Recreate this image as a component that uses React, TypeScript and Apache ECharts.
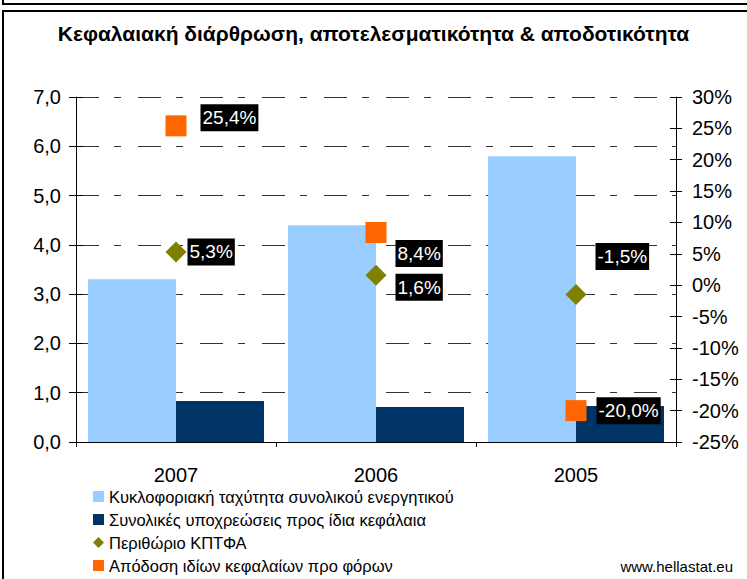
import React, { useEffect, useRef } from "react";
import * as echarts from "echarts";

const titleText = "Κεφαλαιακή διάρθρωση, αποτελεσματικότητα & αποδοτικότητα";
const categories = ["2007", "2006", "2005"];
const seriesNames = [
  "Κυκλοφοριακή ταχύτητα συνολικού ενεργητικού",
  "Συνολικές υποχρεώσεις προς ίδια κεφάλαια",
  "Περιθώριο ΚΠΤΦΑ",
  "Απόδοση ιδίων κεφαλαίων προ φόρων",
];
const turnover = [3.3, 4.4, 5.8];
const liabilities = [0.83, 0.71, 0.73];
const ebitdaMargin = [5.3, 1.6, -1.5];
const roe = [25.4, 8.4, -20.0];
const leftAxis = { min: 0, max: 7, interval: 1 };
const rightAxis = { min: -25, max: 30, interval: 5 };
const sourceText = "www.hellastat.eu";

// label placement tweaks (style, not data)
const marginLabelShift = [[1, 0], [9, 12], [9, -38]];
const roeLabelShift = [[14, -8], [9, 21], [10, 0]];

const FONT = "'Liberation Sans', Arial, sans-serif";
const fmtPct = (v: number) => v.toFixed(1).replace(".", ",") + "%";

export default function App() {
  const ref = useRef<HTMLDivElement>(null);
  useEffect(() => {
    if (!ref.current) return;
    const chart = echarts.init(ref.current, undefined, { renderer: "svg" });
    const labelBase = {
      show: true,
      position: "right",
      distance: 0,
      backgroundColor: "#000",
      color: "#fff",
      fontFamily: FONT,
      fontSize: 19,
      lineHeight: 22,
      padding: [3, 2, 2, 2],
      formatter: (p: any) => fmtPct(p.value),
    };
    const gridLine = { color: "#333", width: 1, type: [23, 15, 7, 17] };
    chart.setOption({
      animation: false,
      backgroundColor: "#fff",
      textStyle: { fontFamily: FONT },
      title: {
        text: titleText,
        left: "center",
        top: 18,
        textStyle: { fontFamily: FONT, fontSize: 21, fontWeight: "bold", color: "#000" },
      },
      grid: { left: 76, right: 71, top: 97, bottom: 137, containLabel: false },
      legend: {
        orient: "vertical",
        left: 88,
        top: 483,
        height: 100,
        itemWidth: 11,
        itemHeight: 11,
        itemGap: 6,
        textStyle: { fontFamily: FONT, fontSize: 16.5, color: "#000" },
        data: [
          { name: seriesNames[0], icon: "rect" },
          { name: seriesNames[1], icon: "rect" },
          { name: seriesNames[2], icon: "diamond" },
          { name: seriesNames[3], icon: "rect" },
        ],
      },
      xAxis: {
        type: "category",
        data: categories,
        axisLine: { lineStyle: { color: "#000", width: 1 } },
        axisTick: { show: true, length: 5, lineStyle: { color: "#000" } },
        axisLabel: { color: "#000", fontSize: 20, fontFamily: FONT, margin: 23 },
      },
      yAxis: [
        {
          type: "value",
          position: "left",
          ...leftAxis,
          axisLine: { show: true, lineStyle: { color: "#000" } },
          axisTick: { show: true, length: 7, lineStyle: { color: "#000" } },
          axisLabel: {
            color: "#000",
            fontSize: 20,
            fontFamily: FONT,
            margin: 15,
            formatter: (v: number) => v.toFixed(1).replace(".", ","),
          },
          splitLine: { show: true, lineStyle: gridLine },
        },
        {
          type: "value",
          position: "left",
          ...leftAxis,
          axisLine: { show: false },
          axisTick: { show: true, inside: true, length: 7, lineStyle: { color: "#000" } },
          axisLabel: { show: false },
          splitLine: { show: false },
        },
        {
          type: "value",
          position: "right",
          ...rightAxis,
          axisLine: { show: true, lineStyle: { color: "#000" } },
          axisTick: { show: true, length: 6, lineStyle: { color: "#000" } },
          axisLabel: {
            color: "#000",
            fontSize: 20,
            fontFamily: FONT,
            margin: 16,
            formatter: (v: number) => v + "%",
          },
          splitLine: { show: false },
        },
        {
          type: "value",
          position: "right",
          ...rightAxis,
          axisLine: { show: false },
          axisTick: { show: true, inside: true, length: 6, lineStyle: { color: "#000" } },
          axisLabel: { show: false },
          splitLine: { show: false },
        },
      ],
      series: [
        {
          name: seriesNames[0],
          type: "bar",
          yAxisIndex: 0,
          data: turnover,
          itemStyle: { color: "#99CCFF" },
          barGap: "0%",
          barCategoryGap: "12%",
          z: 1,
        },
        {
          name: seriesNames[1],
          type: "bar",
          yAxisIndex: 0,
          data: liabilities,
          itemStyle: { color: "#003366" },
          barGap: "0%",
          barCategoryGap: "12%",
          z: 1,
        },
        {
          name: seriesNames[2],
          type: "scatter",
          yAxisIndex: 2,
          symbol: "diamond",
          symbolSize: 21,
          itemStyle: { color: "#808000", opacity: 1 },
          z: 5,
          data: ebitdaMargin.map((v, i) => ({
            value: v,
            label: { ...labelBase, offset: marginLabelShift[i] },
          })),
        },
        {
          name: seriesNames[3],
          type: "scatter",
          yAxisIndex: 2,
          symbol: "rect",
          symbolSize: 21,
          itemStyle: { color: "#FF6600", opacity: 1 },
          z: 5,
          data: roe.map((v, i) => ({
            value: v,
            label: { ...labelBase, offset: roeLabelShift[i] },
          })),
        },
      ],
      graphic: [
        { type: "line", shape: { x1: 3, y1: 0, x2: 3, y2: 5 }, style: { stroke: "#000", lineWidth: 2 } },
        { type: "line", shape: { x1: 2, y1: 4, x2: 747, y2: 4 }, style: { stroke: "#000", lineWidth: 2 } },
        { type: "line", shape: { x1: 2, y1: 11, x2: 747, y2: 11 }, style: { stroke: "#000", lineWidth: 2 } },
        { type: "line", shape: { x1: 3, y1: 10, x2: 3, y2: 579 }, style: { stroke: "#000", lineWidth: 2 } },
        {
          type: "text",
          x: 733,
          y: 566,
          style: {
            text: sourceText,
            align: "right",
            verticalAlign: "middle",
            font: "15px 'Liberation Sans', Arial, sans-serif",
            fill: "#000",
          },
        },
      ],
    });
    return () => chart.dispose();
  }, []);
  return (
    <div
      ref={ref}
      style={{ position: "absolute", left: 0, top: 0, width: 747, height: 579 }}
    />
  );
}
